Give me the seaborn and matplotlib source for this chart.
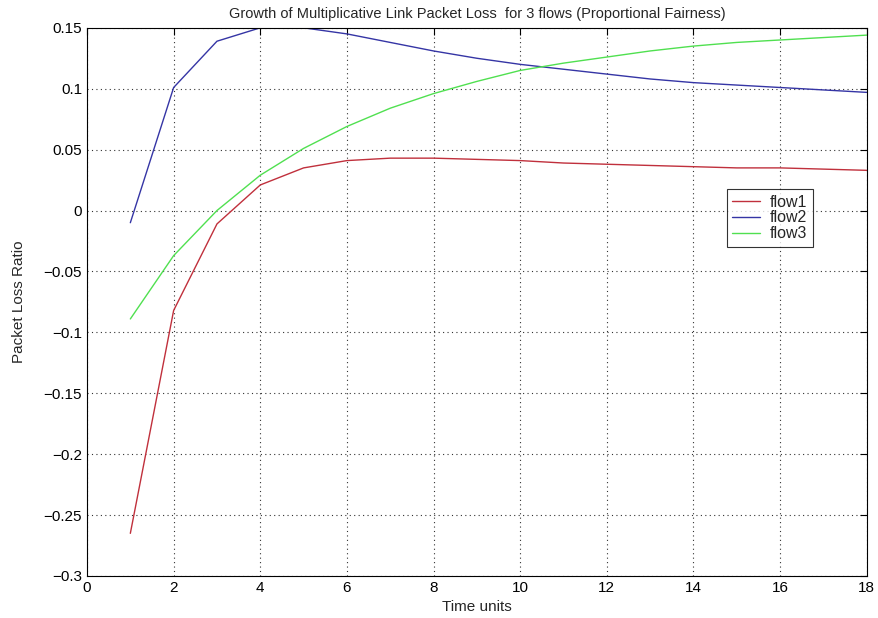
import seaborn as sns
import pandas as pd
import matplotlib.pyplot as plt

# values, one point per time unit
time = list(range(1, 19))
flow1 = [-0.265, -0.082, -0.011, 0.021, 0.035, 0.041, 0.043, 0.043, 0.042,
         0.041, 0.039, 0.038, 0.037, 0.036, 0.035, 0.035, 0.034, 0.033]
flow2 = [-0.010, 0.101, 0.139, 0.150, 0.150, 0.145, 0.138, 0.131, 0.125,
         0.120, 0.116, 0.112, 0.108, 0.105, 0.103, 0.101, 0.099, 0.097]
flow3 = [-0.089, -0.037, 0.000, 0.029, 0.051, 0.069, 0.084, 0.096, 0.106,
         0.115, 0.121, 0.126, 0.131, 0.135, 0.138, 0.140, 0.142, 0.144]
flows = ['flow1', 'flow2', 'flow3']
colors = ['#c0303c', '#3535a5', '#50e050']

df = pd.concat([pd.DataFrame({'time': time, 'loss': v, 'flow': n})
                for n, v in zip(flows, [flow1, flow2, flow3])], ignore_index=True)

sns.set_style('white')
plt.rcParams['font.family'] = ['Liberation Sans', 'DejaVu Sans']

fig = plt.figure(figsize=(8.79, 6.18), dpi=100)
ax = fig.add_axes([0.099, 0.068, 0.887, 0.887])

sns.lineplot(data=df, x='time', y='loss', hue='flow', palette=colors,
             linewidth=1.0, ax=ax)

ax.set_xlim(0, 18)
ax.set_ylim(-0.3, 0.15)
ax.set_xticks(range(0, 19, 2))
ax.set_yticks([-0.3, -0.25, -0.2, -0.15, -0.1, -0.05, 0, 0.05, 0.1, 0.15])
ax.set_yticklabels(['\u22120.3', '\u22120.25', '\u22120.2', '\u22120.15', '\u22120.1',
                    '\u22120.05', '0', '0.05', '0.1', '0.15'])
ax.grid(True, linestyle=(0, (1, 3)), color='#333333', linewidth=0.8)
ax.tick_params(direction='in', top=True, right=True, length=5,
               labelsize=11, colors='black', width=0.8)
for s in ax.spines.values():
    s.set_color('black')
    s.set_linewidth(0.8)

ax.set_xlabel('Time units', fontsize=11, labelpad=4)
ax.set_ylabel('Packet Loss Ratio', fontsize=11, labelpad=13)
ax.set_title('Growth of Multiplicative Link Packet Loss  for 3 flows (Proportional Fairness)',
             fontsize=10.5, pad=7)

leg = ax.legend(loc='upper left', bbox_to_anchor=(0.8205, 0.706), fontsize=11.5,
                frameon=True, fancybox=False, handlelength=1.75, borderpad=0.35,
                labelspacing=0.05, handletextpad=0.6, borderaxespad=0)
leg.get_frame().set_edgecolor('black')
leg.get_frame().set_linewidth(0.8)

fig.savefig('out.png', dpi=100)
